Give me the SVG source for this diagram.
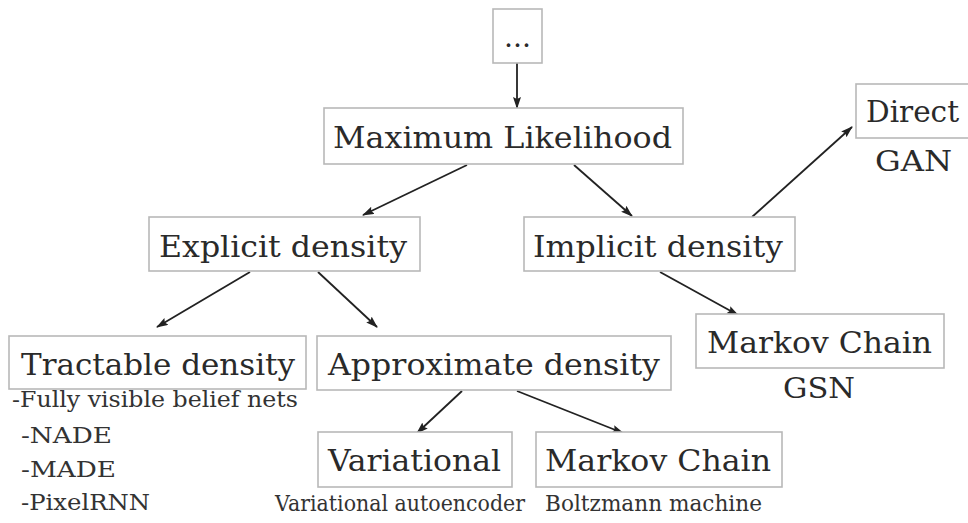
<svg xmlns="http://www.w3.org/2000/svg" width="968" height="523" viewBox="0 0 968 523">
<defs>
<style>
.box{fill:#fff;stroke:#b8b8b8;stroke-width:1.6}
text{font-family:'DejaVu Serif','Liberation Serif',serif;fill:#2a2a2a}
.lg{font-size:30px}
.md{font-size:28px}
.sm{font-size:22px;fill:#333}
.conn line{stroke:#222;stroke-width:1.8;marker-end:url(#ah)}
</style>
<marker id="ah" markerUnits="userSpaceOnUse" markerWidth="12" markerHeight="9" refX="11" refY="4" orient="auto">
<path d="M0,0 L12,4 L0,8 L2,4 z" fill="#222"/>
</marker>
</defs>
<rect width="968" height="523" fill="#fff"/>
<g id="connectors" class="conn">
<line x1="517" y1="63" x2="517" y2="108"/>
<line x1="467" y1="165" x2="363" y2="215"/>
<line x1="574" y1="165" x2="632" y2="216"/>
<line x1="250" y1="272" x2="157" y2="327"/>
<line x1="318" y1="272" x2="377" y2="327"/>
<line x1="660" y1="272" x2="738" y2="315"/>
<line x1="752" y1="217" x2="852" y2="127"/>
<line x1="462" y1="391" x2="417" y2="433"/>
<line x1="517" y1="391" x2="623" y2="433"/>
</g>
<g id="node-dots">
<rect class="box" x="493" y="9" width="49" height="54"/>
<text class="md" x="504" y="47" textLength="27" lengthAdjust="spacingAndGlyphs">...</text>
</g>
<g id="node-ml">
<rect class="box" x="324" y="108" width="359" height="56"/>
<text class="lg" x="333" y="148" textLength="339" lengthAdjust="spacingAndGlyphs">Maximum Likelihood</text>
</g>
<g id="node-explicit">
<rect class="box" x="149" y="217" width="271" height="54"/>
<text class="lg" x="159" y="257" textLength="248" lengthAdjust="spacingAndGlyphs">Explicit density</text>
</g>
<g id="node-implicit">
<rect class="box" x="524" y="217" width="271" height="54"/>
<text class="lg" x="533" y="257" textLength="250" lengthAdjust="spacingAndGlyphs">Implicit density</text>
</g>
<g id="node-direct">
<rect class="box" x="856" y="84" width="120" height="54"/>
<text class="lg" x="866" y="122" textLength="93" lengthAdjust="spacingAndGlyphs">Direct</text>
<text class="md" x="875" y="171" textLength="77" lengthAdjust="spacingAndGlyphs">GAN</text>
</g>
<g id="node-markov-right">
<rect class="box" x="696" y="314" width="248" height="54"/>
<text class="lg" x="707" y="353" textLength="225" lengthAdjust="spacingAndGlyphs">Markov Chain</text>
<text class="md" x="783" y="398" textLength="72" lengthAdjust="spacingAndGlyphs">GSN</text>
</g>
<g id="node-tractable">
<rect class="box" x="9" y="336" width="297" height="53"/>
<text class="lg" x="21" y="375" textLength="274" lengthAdjust="spacingAndGlyphs">Tractable density</text>
<text class="sm" x="12" y="407" textLength="286" lengthAdjust="spacingAndGlyphs">-Fully visible belief nets</text>
<text class="sm" x="21" y="443" textLength="91" lengthAdjust="spacingAndGlyphs">-NADE</text>
<text class="sm" x="21" y="477" textLength="95" lengthAdjust="spacingAndGlyphs">-MADE</text>
<text class="sm" x="21" y="510" textLength="129" lengthAdjust="spacingAndGlyphs">-PixelRNN</text>
</g>
<g id="node-approx">
<rect class="box" x="317" y="336" width="354" height="54"/>
<text class="lg" x="328" y="375" textLength="332" lengthAdjust="spacingAndGlyphs">Approximate density</text>
</g>
<g id="node-variational">
<rect class="box" x="318" y="432" width="194" height="55"/>
<text class="lg" x="328" y="471" textLength="173" lengthAdjust="spacingAndGlyphs">Variational</text>
<text class="sm" x="275" y="511" textLength="250" lengthAdjust="spacingAndGlyphs">Variational autoencoder</text>
</g>
<g id="node-markov-bottom">
<rect class="box" x="536" y="432" width="246" height="55"/>
<text class="lg" x="545" y="471" textLength="226" lengthAdjust="spacingAndGlyphs">Markov Chain</text>
<text class="sm" x="545" y="511" textLength="217" lengthAdjust="spacingAndGlyphs">Boltzmann machine</text>
</g>
</svg>
